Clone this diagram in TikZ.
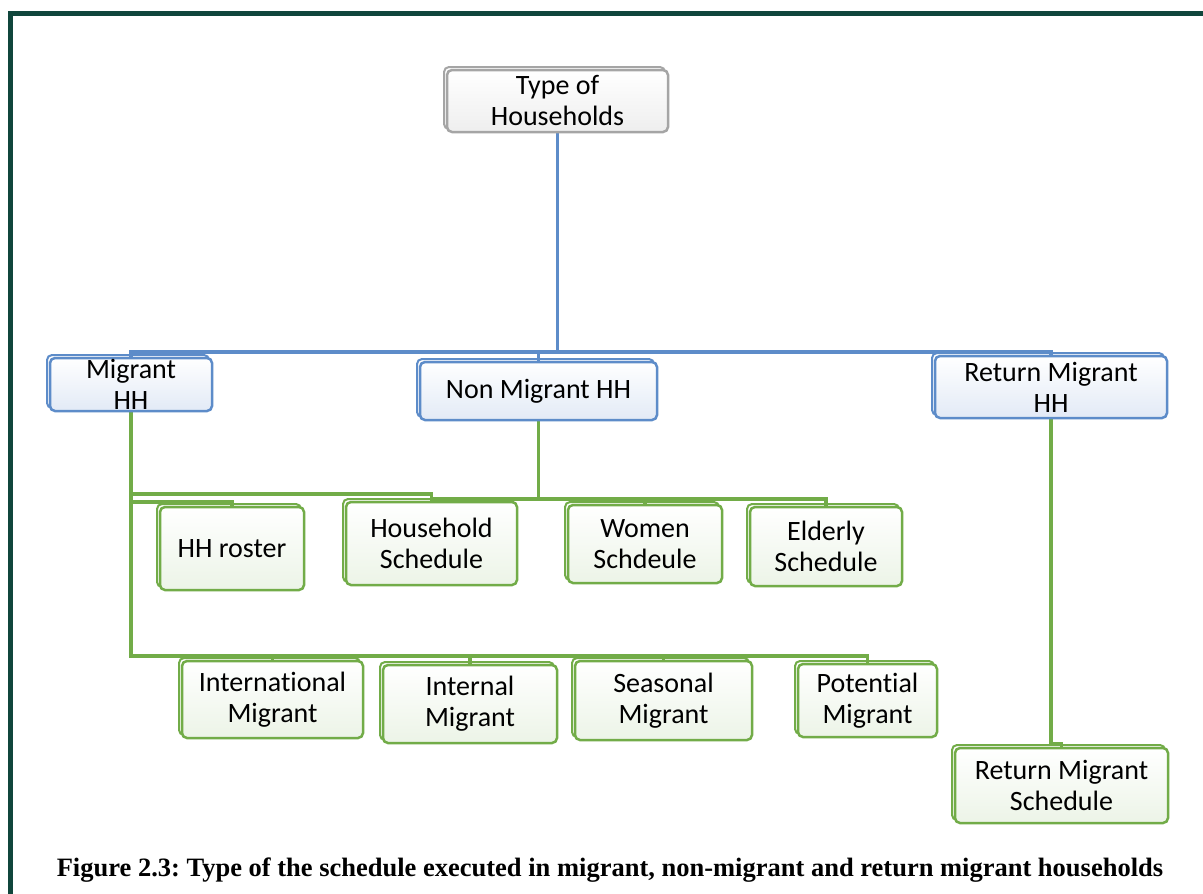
\documentclass[tikz,border=0pt]{standalone}
\usepackage{fontspec}
\setmainfont{Carlito}[Ligatures=NoCommon]
\newfontfamily\capfont{Liberation Serif}
\frenchspacing
\definecolor{framec}{RGB}{16,70,60}
\definecolor{blueb}{RGB}{93,140,201}
\definecolor{bluef}{RGB}{226,234,246}
\definecolor{greenb}{RGB}{114,172,72}
\definecolor{greenf}{RGB}{236,244,231}
\definecolor{grayb}{RGB}{165,165,165}
\definecolor{grayf}{RGB}{238,238,238}
\pgfdeclarelayer{bg}
\pgfsetlayers{bg,main}
\tikzset{
  boxbase/.style={rectangle, rounded corners=5pt, line width=2.5pt, align=center,
    inner sep=0pt, font=\fontsize{28}{31}\selectfont, text=black},
  graybox/.style={boxbase, draw=grayb, top color=white, bottom color=grayf,
    preaction={draw=grayb, line width=2pt, transform canvas={shift={(-3pt,3pt)}}}},
  bluebox/.style={boxbase, draw=blueb, top color=white, bottom color=bluef,
    preaction={draw=blueb, line width=2pt, transform canvas={shift={(-3pt,3pt)}}}},
  greenbox/.style={boxbase, draw=greenb, top color=white, bottom color=greenf,
    preaction={draw=greenb, line width=2pt, transform canvas={shift={(-3pt,3pt)}}}},
  blueline/.style={draw=blueb, line width=3.5pt},
  greenline/.style={draw=greenb, line width=3.5pt},
}
\begin{document}
\begin{tikzpicture}[x=1pt,y=-1pt]
\useasboundingbox (0,0) rectangle (1203,894);
\begin{pgfonlayer}{bg}
\fill[white] (0,0) rectangle (1203,894);
\end{pgfonlayer}
% frame
\draw[framec, line width=5pt] (10.5,894) -- (10.5,13.5) -- (1203,13.5);

% coordinates for buses
\coordinate (bus) at (0,352);
\coordinate (rowA) at (0,494);
\coordinate (rowB) at (0,502);
\coordinate (rowN) at (0,499);
\coordinate (rowC) at (0,656);
\coordinate (rowR) at (0,744);

% boxes
\path (557.5,101) node[graybox, minimum width=221pt, minimum height=62pt] (top) {Type of\\Households};
\path (131,384.5) node[bluebox, minimum width=162pt, minimum height=53pt] (mig) {Migrant\\HH};
\path (538.5,391) node[bluebox, minimum width=237pt, minimum height=58pt] (non) {Non Migrant HH};
\path (1051,387) node[bluebox, minimum width=232pt, minimum height=62pt] (ret) {Return Migrant\\HH};

\path (232,548.5) node[greenbox, minimum width=144pt, minimum height=83pt] (ros) {HH roster};
\path (431.5,543.5) node[greenbox, minimum width=171pt, minimum height=83pt] (hs) {Household\\Schedule};
\path (645,544) node[greenbox, minimum width=154pt, minimum height=78pt] (wom) {Women\\Schdeule};
\path (826,546.5) node[greenbox, minimum width=152pt, minimum height=79pt] (eld) {Elderly\\Schedule};

\path (272.5,699.5) node[greenbox, minimum width=181pt, minimum height=77pt] (int) {International\\Migrant};
\path (470,704) node[greenbox, minimum width=174pt, minimum height=78pt] (inl) {Internal\\Migrant};
\path (663.5,700.5) node[greenbox, minimum width=177pt, minimum height=79pt] (sea) {Seasonal\\Migrant};
\path (867.5,700.5) node[greenbox, minimum width=139pt, minimum height=73pt] (pot) {Potential\\Migrant};

\path (1061.5,785.5) node[greenbox, minimum width=213pt, minimum height=75pt] (rms) {Return Migrant\\Schedule};

\begin{pgfonlayer}{bg}
% blue connectors
\draw[blueline] (top.south) -- (top.south |- bus);
\draw[blueline] (mig.north) -- (mig.north |- bus) -- (ret.north |- bus) -- (ret.north);
\draw[blueline] (non.north) -- (non.north |- bus);

% green connectors from Migrant HH
\draw[greenline] (mig.south) -- (mig.south |- rowC) -- (pot.north |- rowC) -- (pot.north);
\draw[greenline] (mig.south |- rowA) -- (hs.north |- rowA) -- (hs.north);
\draw[greenline] (mig.south |- rowB) -- (ros.north |- rowB) -- (ros.north);
\draw[greenline] (int.north |- rowC) -- (int.north);
\draw[greenline] (inl.north |- rowC) -- (inl.north);
\draw[greenline] (sea.north |- rowC) -- (sea.north);

% green connectors from Non Migrant HH
\draw[greenline] (non.south) -- (non.south |- rowN);
\draw[greenline] (hs.north |- rowN) -- (eld.north |- rowN) -- (eld.north);
\draw[greenline] (wom.north |- rowN) -- (wom.north);

% return migrant
\draw[greenline] (ret.south) -- (ret.south |- rowR) -- (rms.north |- rowR) -- (rms.north);
\end{pgfonlayer}

% caption
\node[anchor=base, font=\capfont\bfseries\fontsize{26.5}{30}\selectfont] (cap) at (610,876)
  {Figure 2.3: Type of the schedule executed in migrant, non-migrant and return migrant households};
\end{tikzpicture}
\end{document}
